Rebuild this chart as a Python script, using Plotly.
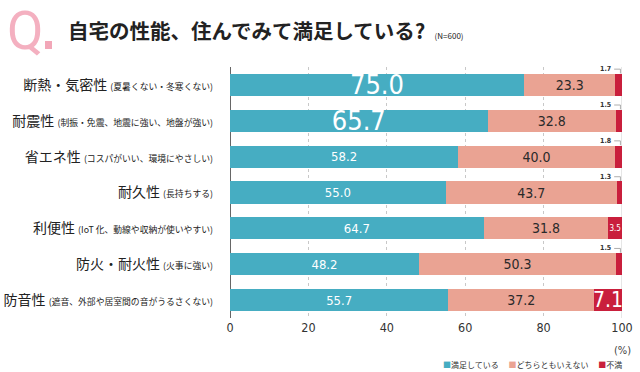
import plotly.graph_objects as go

SUB = "<span style='font-size:8.8px'>"
categories = [
    f"断熱・気密性 {SUB}(夏暑くない・冬寒くない)</span>",
    f"耐震性 {SUB}(制振・免震、地震に強い、地盤が強い)</span>",
    f"省エネ性 {SUB}(コスパがいい、環境にやさしい)</span>",
    f"耐久性 {SUB}(長持ちする)</span>",
    f"利便性 {SUB}(IoT 化、動線や収納が使いやすい)</span>",
    f"防火・耐火性 {SUB}(火事に強い)</span>",
    f"防音性 {SUB}(遮音、外部や居室間の音がうるさくない)</span>",
]
satisfied = [75.0, 65.7, 58.2, 55.0, 64.7, 48.2, 55.7]
neutral = [23.3, 32.8, 40.0, 43.7, 31.8, 50.3, 37.2]
dissatisfied = [1.7, 1.5, 1.8, 1.3, 3.5, 1.5, 7.1]
series_names = ["満足している", "どちらともいえない", "不満"]
x_ticks = [0, 20, 40, 60, 80, 100]

C_SAT = "#46adc2"
C_NEU = "#eaa393"
C_DIS = "#c91f3c"
NUMFONT = "DejaVu Sans Condensed, Roboto, sans-serif"
JPFONT = "Noto Sans CJK JP, sans-serif"

# plot area in pixels: x 230..622, y 67..318
PL, PR, PT, PB = 230, 622, 67, 318
def px(x):
    return (x - PL) / (PR - PL)
def py(y):
    return (PB - y) / (PB - PT)

sat_sizes = [27 if i < 2 else 13 for i in range(len(satisfied))]
dis_text = ["" if v < 3 else f"{v:.1f}" for v in dissatisfied]
dis_sizes = [21 if v > 5 else 8 for v in dissatisfied]

fig = go.Figure()
fig.add_trace(go.Bar(
    y=categories, x=satisfied, orientation="h", name=series_names[0],
    marker=dict(color=C_SAT, line=dict(width=0)),
    text=[f"{v:.1f}" for v in satisfied], textposition="inside", insidetextanchor="middle",
    textangle=0, constraintext="none",
    textfont=dict(color="white", size=sat_sizes, family=NUMFONT),
))
fig.add_trace(go.Bar(
    y=categories, x=neutral, orientation="h", name=series_names[1],
    marker=dict(color=C_NEU, line=dict(width=0)),
    text=[f"{v:.1f}" for v in neutral], textposition="inside", insidetextanchor="middle",
    textangle=0, constraintext="none",
    textfont=dict(color="#2a2a2a", size=14, family=NUMFONT),
))
fig.add_trace(go.Bar(
    y=categories, x=dissatisfied, orientation="h", name=series_names[2],
    marker=dict(color=C_DIS, line=dict(width=0)),
    text=dis_text, textposition="inside", insidetextanchor="middle",
    textangle=0, constraintext="none",
    textfont=dict(color="white", size=dis_sizes, family=NUMFONT),
))

annotations = []
shapes = []
for i, v in enumerate(dissatisfied):
    if v < 3:
        annotations.append(dict(
            x=97.7, y=i, xref="x", yref="y", text=f"<b>{v:.1f}</b>", showarrow=False,
            xanchor="right", yanchor="middle", yshift=16,
            font=dict(size=7, color="#333", family=NUMFONT),
        ))
        shapes.append(dict(type="line", xref="x", yref="y", x0=98.0, x1=99.6,
                           y0=i - 0.44, y1=i - 0.44, line=dict(color="#999", width=0.8)))
        shapes.append(dict(type="line", xref="x", yref="y", x0=99.6, x1=99.6,
                           y0=i - 0.44, y1=i - 0.32, line=dict(color="#999", width=0.8)))

shapes.append(dict(type="line", xref="x", yref="paper", x0=100, x1=100, y0=0, y1=1,
                   line=dict(color="#cccccc", width=1), layer="below"))
# Q icon square
shapes.append(dict(type="rect", xref="paper", yref="paper", x0=px(45), x1=px(52),
                   y0=py(49), y1=py(41), fillcolor="#f2a7b8", line=dict(width=0)))

annotations += [
    dict(x=px(25), y=py(31), xref="paper", yref="paper", text="Q", showarrow=False,
         xanchor="center", yanchor="middle",
         font=dict(size=53, color="#f4b0c0", family="Roboto, sans-serif")),
    dict(x=px(66), y=py(30), xref="paper", yref="paper",
         text="<b>自宅の性能、住んでみて満足している?</b>  <span style='font-size:8px'>(N=600)</span>",
         showarrow=False, xanchor="left", yanchor="middle",
         font=dict(size=20.5, color="#222", family=JPFONT)),
    dict(x=100, y=py(350), xref="x", yref="paper", text="(%)", showarrow=False,
         xanchor="center", yanchor="middle", font=dict(size=11, color="#444", family=NUMFONT)),
    dict(x=px(624), y=py(364), xref="paper", yref="paper",
         text=(f"<span style='color:{C_SAT}'>■</span>{series_names[0]}　 "
               f"<span style='color:{C_NEU}'>■</span>{series_names[1]}　 "
               f"<span style='color:{C_DIS}'>■</span>{series_names[2]}"),
         showarrow=False, xanchor="right", yanchor="middle",
         font=dict(size=8, color="#333", family=JPFONT)),
]

fig.update_layout(
    barmode="stack", bargap=0.38,
    width=640, height=372,
    margin=dict(l=PL, r=640 - PR, t=PT, b=372 - PB, autoexpand=False),
    paper_bgcolor="white", plot_bgcolor="white",
    showlegend=False,
    uniformtext=dict(mode=False),
    annotations=annotations, shapes=shapes,
    font=dict(family=JPFONT),
)
fig.update_xaxes(range=[0, 100], tickvals=x_ticks, ticktext=[str(t) for t in x_ticks],
                 showgrid=True, gridcolor="#c8c8c8", griddash="dot", gridwidth=1,
                 zeroline=True, zerolinecolor="#666", zerolinewidth=1, automargin=False,
                 tickfont=dict(size=12.5, color="#333", family=NUMFONT), ticks="", fixedrange=True)
fig.update_yaxes(autorange="reversed", tickfont=dict(size=14, color="#222", family=JPFONT),
                 ticks="", ticklabelstandoff=16, showline=False, automargin=False)

fig.write_html("out.html", config={"displayModeBar": False},
               post_script="document.body.style.margin='0';document.body.style.overflow='hidden';")
